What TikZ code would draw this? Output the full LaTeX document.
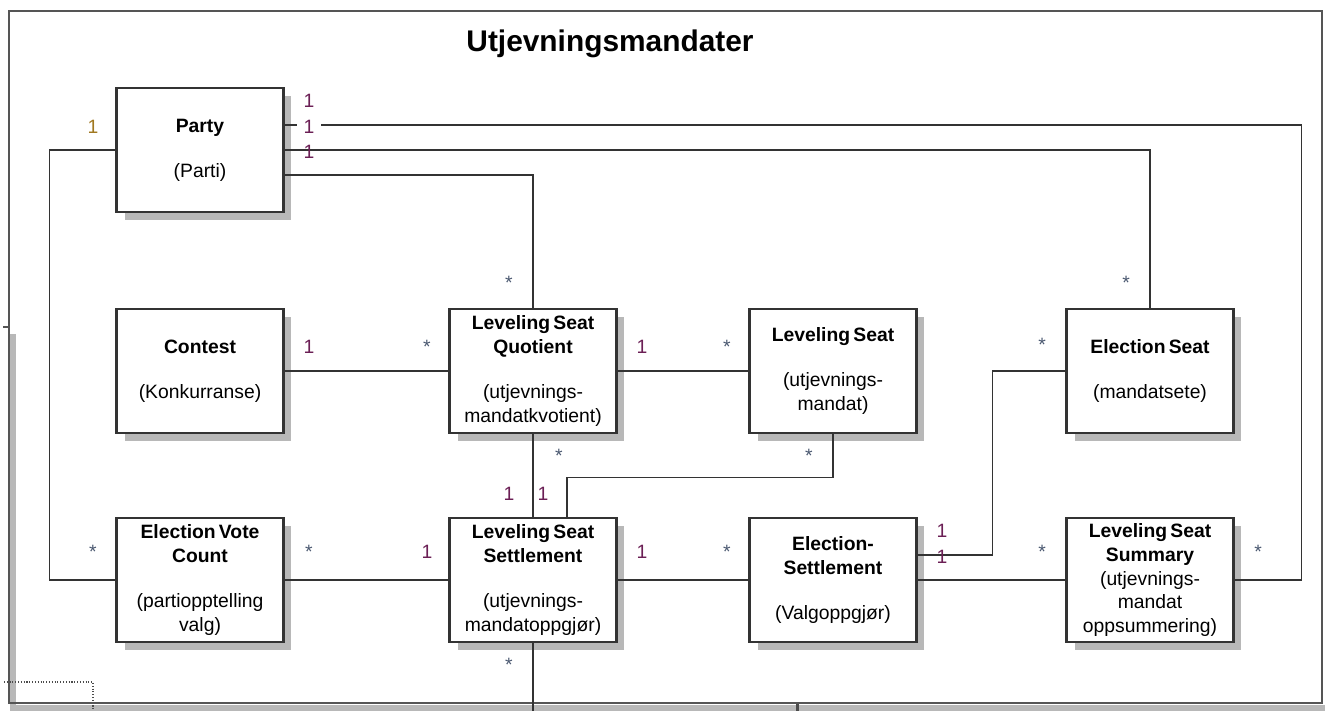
\documentclass[tikz,border=0pt]{standalone}
\usepackage{fontspec}
\setmainfont{Liberation Sans}
\usetikzlibrary{shadows}
\definecolor{frameline}{HTML}{555555}
\definecolor{multone}{HTML}{6B1F55}
\definecolor{multstar}{HTML}{4A5870}
\definecolor{multgold}{HTML}{A07820}

\begin{document}
\begin{tikzpicture}[x=0.02cm, y=-0.02cm,
  entity/.style={draw=black!80, line width=1.2pt, fill=white, align=center,
    minimum width=3.34cm, minimum height=2.48cm, inner sep=2pt,
    font=\fontsize{11}{13.6}\selectfont,
    drop shadow={shadow xshift=0.16cm, shadow yshift=-0.16cm, fill=black!28, opacity=1}},
  assoc/.style={draw=black!80, line width=0.6pt},
  mult/.style={anchor=base, inner sep=1pt, font=\fontsize{11}{13}\selectfont},
  one/.style={mult, text=multone},
  many/.style={mult, text=multstar}]

\useasboundingbox (0,0) rectangle (1325,711);

% window frame
\fill[black!28] (10,705) rectangle (1325,711);
\fill[black!28] (10,334) rectangle (16,711);
\draw[frameline, line width=0.8pt] (3,327) -- (10,327);
\draw[black!70, densely dotted, line width=0.6pt] (4,682) -- (93,682) -- (93,711);
\draw[frameline, line width=1.2pt] (9,11) rectangle (1322,703);
\fill[black!70] (796,704) rectangle (799,711);

% title
\node (title) at (610,44) {\fontsize{17}{20}\selectfont\bfseries Utjevningsmandater};

% classes
\node[entity] (party) at (200,150) {\textbf{Party}\\[12pt](Parti)};
\node[entity] (contest) at (200,371) {\textbf{Contest}\\[12pt](Konkurranse)};
\node[entity] (lsq) at (533,371) {\textbf{Leveling\,Seat}\\\textbf{Quotient}\\[12pt](utjevnings-\\mandatkvotient)};
\node[entity] (lseat) at (833,371) {\textbf{Leveling\,Seat}\\[12pt](utjevnings-\\mandat)};
\node[entity] (eseat) at (1150,371) {\textbf{Election\,Seat}\\[12pt](mandatsete)};
\node[entity] (evc) at (200,580) {\textbf{Election\,Vote}\\\textbf{Count}\\[12pt](partiopptelling\\valg)};
\node[entity] (lss) at (533,580) {\textbf{Leveling\,Seat}\\\textbf{Settlement}\\[12pt](utjevnings-\\mandatoppgjør)};
\node[entity] (esettle) at (833,580) {\textbf{Election-}\\\textbf{Settlement}\\[12pt](Valgoppgjør)};
\node[entity] (summary) at (1150,580) {\textbf{Leveling\,Seat}\\\textbf{Summary}\\(utjevnings-\\mandat\\oppsummering)};

\coordinate (lssout) at (533,711);

% associations
\draw[assoc] (party.west) -- ++(-66,0) |- (evc.west);
\draw[assoc] ([yshift=0.5cm]party.east) -| ([xshift=1.34cm]summary.east) -- (summary.east);
\draw[assoc] (party.east) -| (eseat.north);
\draw[assoc] ([yshift=-0.5cm]party.east) -| (lsq.north);
\draw[assoc] (contest.east) -- (lsq.west);
\draw[assoc] (lsq.east) -- (lseat.west);
\draw[assoc] (lsq.south) -- (lss.north);
\draw[assoc] (lseat.south) -- ++(0,43) -| ([xshift=0.68cm]lss.north);
\draw[assoc] (evc.east) -- (lss.west);
\draw[assoc] (lss.east) -- (esettle.west);
\draw[assoc] ([yshift=0.5cm]esettle.east) -- ++(75,0) |- (eseat.west);
\draw[assoc] (esettle.east) -- (summary.west);
\draw[assoc] (lss.south) -- (lssout);

% multiplicities
\node[mult, text=multgold] (m1) at (93,133) {1};
\node[many] (m2) at (93,558) {*};
\node[one] (m3) at (309,107) {1};
\node[one, fill=white, inner xsep=3.5pt] (m4) at (309,133) {1};
\node[one] (m5) at (309,158) {1};
\node[many] (m6) at (1258,558) {*};
\node[many] (m7) at (1126,289) {*};
\node[many] (m8) at (509,289) {*};
\node[one] (m9) at (309,353) {1};
\node[many] (m10) at (427,353) {*};
\node[one] (m11) at (642,353) {1};
\node[many] (m12) at (727,353) {*};
\node[many] (m13) at (559,462) {*};
\node[one] (m14) at (509,500) {1};
\node[many] (m15) at (809,462) {*};
\node[one] (m16) at (543,500) {1};
\node[many] (m17) at (309,558) {*};
\node[one] (m18) at (427,558) {1};
\node[one] (m19) at (642,558) {1};
\node[many] (m20) at (727,558) {*};
\node[one] (m21) at (942,537) {1};
\node[one] (m22) at (942,563) {1};
\node[many] (m23) at (1042,351) {*};
\node[many] (m24) at (1042,558) {*};
\node[many] (m25) at (509,671) {*};
\end{tikzpicture}
\end{document}
